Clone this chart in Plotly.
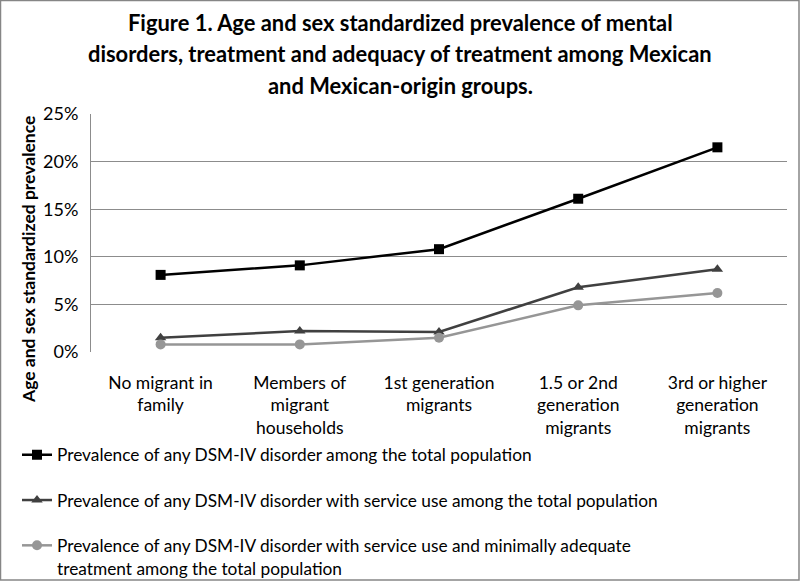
import plotly.graph_objects as go

categories = ["No migrant in<br>family", "Members of<br>migrant<br>households",
              "1st generation<br>migrants", "1.5 or 2nd<br>generation<br>migrants",
              "3rd or higher<br>generation<br>migrants"]
any_disorder = [8.1, 9.1, 10.8, 16.1, 21.5]
service_use = [1.5, 2.2, 2.1, 6.8, 8.7]
adequate_treatment = [0.8, 0.8, 1.5, 4.9, 6.2]
series_names = [
    "Prevalence of any DSM-IV disorder among the total population",
    "Prevalence of any DSM-IV disorder with service use among the total population",
    "Prevalence of any DSM-IV disorder with service use and minimally adequate<br>treatment among the total population",
]
y_ticks = [0, 5, 10, 15, 20, 25]
y_tick_labels = ["0%", "5%", "10%", "15%", "20%", "25%"]
title_lines = [
    "Figure 1. Age and sex standardized prevalence of mental",
    "disorders, treatment and adequacy of treatment among Mexican",
    "and Mexican-origin groups.",
]
y_title = "Age and sex standardized prevalence"

FONT = "Lato"
W, H = 800, 581
ML, MR, MT, MB = 91, 13, 114, 229

fig = go.Figure()
styles = [("#000000", "square"), ("#404040", "triangle-up"), ("#969696", "circle")]
for vals, name, (col, sym), grp in zip([any_disorder, service_use, adequate_treatment],
                                       series_names, styles, ["a", "b", "c"]):
    fig.add_trace(go.Scatter(
        x=categories, y=vals, name=name, mode="lines+markers", legendgroup=grp,
        line=dict(color=col, width=2.5),
        marker=dict(symbol=sym, size=10, color=col),
    ))

ph = H - MT - MB
def py(px):
    return (H - MB - px) / ph
pw = W - ML - MR
def pxx(px):
    return (px - ML) / pw

annotations = []
for i, line in enumerate(title_lines):
    annotations.append(dict(
        text=line, xref="paper", yref="paper", x=pxx(400), y=py(22 + i * 31.5),
        xanchor="center", yanchor="middle", showarrow=False,
        font=dict(family=FONT, size=21.9, color="#000", weight="bold"),
    ))
annotations.append(dict(
    text=y_title, xref="paper", yref="paper", x=pxx(28), y=py(260),
    xanchor="center", yanchor="middle", showarrow=False, textangle=-90,
    font=dict(family=FONT, size=17.5, color="#000", weight="bold"),
))

fig.update_layout(
    width=W, height=H,
    margin=dict(l=ML, r=MR, t=MT, b=MB, autoexpand=False),
    paper_bgcolor="white", plot_bgcolor="white",
    font=dict(family=FONT, size=17, color="#000"),
    annotations=annotations,
    showlegend=True,
    legend=dict(
        xref="container", yref="container",
        x=17 / W, y=1 - 437 / H, xanchor="left", yanchor="top",
        font=dict(family=FONT, size=17.3, color="#000"),
        tracegroupgap=19.8, itemwidth=30, valign="top",
        bgcolor="rgba(0,0,0,0)",
    ),
    xaxis=dict(
        range=[-0.5, 4.5], automargin=False,
        showgrid=False, showline=False, zeroline=False,
        ticks="", ticklabelstandoff=18,
        tickfont=dict(family=FONT, size=17.5, color="#000"),
    ),
    yaxis=dict(
        range=[0, 25], tickvals=y_ticks, ticktext=y_tick_labels, automargin=False,
        showgrid=True, gridcolor="#8c8c8c", gridwidth=1,
        showline=True, linecolor="#8c8c8c", linewidth=1, zeroline=False,
        ticks="", ticklabelstandoff=8,
        tickfont=dict(family=FONT, size=18, color="#000"),
    ),
    shapes=[dict(type="rect", xref="paper", yref="paper",
                 x0=pxx(0.5), x1=pxx(W - 1), y0=py(H - 1), y1=py(0.5),
                 line=dict(color="#868686", width=1.5), fillcolor="rgba(0,0,0,0)")],
)

fig.write_html("out.html", config={"displayModeBar": False},
               post_script="document.body.style.margin='0';")
